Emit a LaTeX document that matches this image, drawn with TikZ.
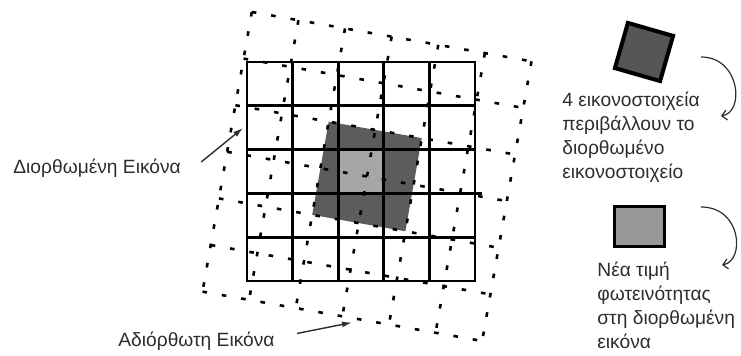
\documentclass[tikz,border=0pt]{standalone}
\usepackage{fontspec}
\setmainfont{Liberation Sans}
\usetikzlibrary{arrows.meta}
\definecolor{PixDark}{RGB}{92,92,92}
\definecolor{PixLight}{RGB}{166,166,166}
\definecolor{IconDark}{RGB}{85,85,85}
\definecolor{IconLight}{RGB}{152,152,152}
\definecolor{TextGray}{RGB}{45,45,45}

\begin{document}
\begin{tikzpicture}[x=0.5pt,y=-0.5pt,
  solidgrid/.style={line width=1.4pt,black},
  dashgrid/.style={line width=1.3pt,black,dash pattern=on 2.3pt off 7.5pt},
  lbl/.style={font=\fontsize{9.6}{12}\selectfont,text=TextGray,
              inner sep=0pt,align=left},
  pointer/.style={-{Latex[length=5pt,width=3pt]},line width=0.7pt,TextGray},
  hook/.style={-{Straight Barb[length=2.5pt,width=5pt]},line width=0.6pt,TextGray},
]
\useasboundingbox (0,0) rectangle (741,356);
% four pixels of the uncorrected image
\begin{scope}[shift={(367,176.5)},rotate=-10]
  \fill[PixDark] (-47.3,-47.3) rectangle (47.3,47.3);
\end{scope}
% corrected pixel
\fill[PixLight] (338.2,149.6) rectangle (383.8,193.4);
% corrected image --- solid grid
\draw[solidgrid] (247,62) rectangle (475,281);
\foreach \k in {1,...,4} {
  \draw[solidgrid] (247+\k*45.6,62) -- (247+\k*45.6,281);
  \draw[solidgrid] (247,62+\k*43.8) -- (475,62+\k*43.8);
}
\draw[solidgrid] (475,193.2) -- (482,193.2);
% uncorrected image --- rotated dashed grid
\begin{scope}[shift={(367,176.5)},rotate=-10]
  \foreach \k in {0,...,6} {
    \draw[dashgrid] (-142+\k*47.33,-142) -- (-142+\k*47.33,142);
    \draw[dashgrid] (-142,-142+\k*47.33) -- (142,-142+\k*47.33);
  }
\end{scope}
% labels on the left
\node[lbl,anchor=west] (corrtext) at (13,168) {Διορθωμένη Εικόνα};
\node[lbl,anchor=west] (rawtext) at (118,341.5) {Αδιόρθωτη Εικόνα};
\coordinate (corrtip) at (243,128);
\coordinate (rawtip) at (352,322.5);
\draw[pointer] ([xshift=10pt,yshift=3pt]corrtext.east) -- (corrtip);
\draw[pointer] ([xshift=11pt,yshift=4pt]rawtext.east) -- (rawtip);
% legend --- four surrounding pixels
\node[draw=black,line width=2pt,fill=IconDark,minimum size=23.5pt,
      inner sep=0pt,rotate=-16] (quadicon) at (644,52) {};
\node[lbl,anchor=north west] (quadtext) at (562,92)
  {4 εικονοστοιχεία\\περιβάλλουν το\\διορθωμένο\\εικονοστοιχείο};
\coordinate (quadhookA) at (701,57);
\coordinate (quadhookB) at (721,116);
\draw[hook] (quadhookA) .. controls (740,57) and (745,112) .. (quadhookB);
% legend --- new intensity value
\node[draw=black,line width=1.6pt,fill=IconLight,minimum width=25pt,
      minimum height=20pt,inner sep=0pt] (newicon) at (639.3,226.7) {};
\node[lbl,anchor=north west] (newtext) at (597,262)
  {Νέα τιμή\\φωτεινότητας\\στη διορθωμένη\\εικόνα};
\coordinate (newhookA) at (701,207);
\coordinate (newhookB) at (722,265);
\draw[hook] (newhookA) .. controls (742,207) and (745,261) .. (newhookB);
\end{tikzpicture}
\end{document}
